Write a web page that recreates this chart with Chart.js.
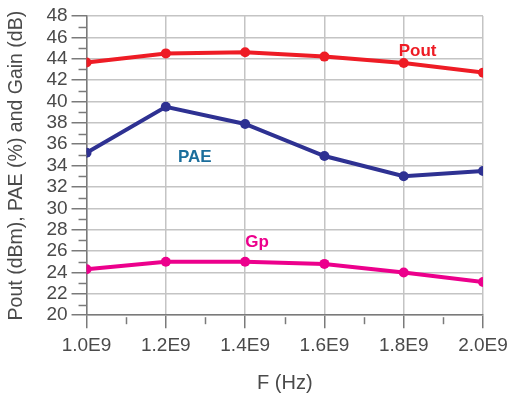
<!DOCTYPE html>
<html>
<head>
<meta charset="utf-8">
<script src="https://cdn.jsdelivr.net/npm/chart.js@4"></script>
<style>
  html, body { margin: 0; padding: 0; background: #fff; }
  #wrap { width: 510px; height: 395px; }
</style>
</head>
<body>
<div id="wrap"><canvas id="chart" width="510" height="395"></canvas></div>
<script>
const freqs = [1.0e9, 1.2e9, 1.4e9, 1.6e9, 1.8e9, 2.0e9];
const pout = [43.65, 44.5, 44.6, 44.2, 43.6, 42.7];
const pae = [35.2, 39.5, 37.9, 34.9, 33.0, 33.5];
const gp = [24.3, 25.0, 25.0, 24.8, 24.0, 23.1];
const yMin = 20, yMax = 48, yStep = 2;
const xMin = 1.0e9, xMax = 2.0e9, xStep = 0.2e9;

// series name labels, placed in data units
const seriesLabels = [
  { text: 'Pout', x: 1.835e9, y: 44.7, color: '#ee1c25' },
  { text: 'PAE', x: 1.273e9, y: 34.8, color: '#1b6e9c' },
  { text: 'Gp', x: 1.43e9, y: 26.8, color: '#ec008c' }
];

const FONT = "'Liberation Sans', Arial, sans-serif";
const AXIS = '#7a7a7a';
const TEXT = '#4a4a4a';

function points(vals) {
  return freqs.map((f, i) => ({ x: f, y: vals[i] }));
}

function series(label, vals, color) {
  return {
    label: label,
    data: points(vals),
    borderColor: color,
    backgroundColor: color,
    borderWidth: 4,
    pointRadius: 5,
    pointHoverRadius: 5,
    pointBorderWidth: 0,
    tension: 0
  };
}

// minor ticks on both axes and the text labels
const extras = {
  id: 'extras',
  afterDraw(chart) {
    const ctx = chart.ctx;
    const xs = chart.scales.x, ys = chart.scales.y;
    const area = chart.chartArea;
    ctx.save();
    ctx.strokeStyle = AXIS;
    ctx.lineWidth = 1.5;
    for (let v = yMin + 1; v < yMax; v += 2) {
      const py = Math.round(ys.getPixelForValue(v)) + 0.5;
      ctx.beginPath();
      ctx.moveTo(area.left - 8, py);
      ctx.lineTo(area.left, py);
      ctx.stroke();
    }
    for (let v = xMin + xStep / 2; v < xMax; v += xStep) {
      const px = Math.round(xs.getPixelForValue(v)) + 0.5;
      ctx.beginPath();
      ctx.moveTo(px, area.bottom + 2);
      ctx.lineTo(px, area.bottom + 9);
      ctx.stroke();
    }
    ctx.textAlign = 'center';
    ctx.textBaseline = 'middle';
    ctx.font = "bold 17px " + FONT;
    seriesLabels.forEach(l => {
      ctx.fillStyle = l.color;
      ctx.fillText(l.text, xs.getPixelForValue(l.x), ys.getPixelForValue(l.y));
    });
    ctx.restore();
  }
};

new Chart(document.getElementById('chart').getContext('2d'), {
  type: 'line',
  data: {
    datasets: [
      series('Pout', pout, '#ee1c25'),
      series('PAE', pae, '#2e3192'),
      series('Gp', gp, '#ec008c')
    ]
  },
  options: {
    responsive: false,
    animation: false,
    events: [],
    layout: { padding: { top: 16, left: 5, right: 0, bottom: 0 } },
    plugins: {
      legend: { display: false },
      tooltip: { enabled: false }
    },
    scales: {
      x: {
        type: 'linear',
        min: xMin,
        max: xMax,
        afterFit: scale => { scale.paddingRight = 27; },
        ticks: {
          stepSize: xStep,
          autoSkip: false,
          color: TEXT,
          font: { family: FONT, size: 19 },
          padding: 6,
          maxRotation: 0,
          callback: v => (v / 1e9).toFixed(1) + 'E9'
        },
        grid: { color: '#c4c4c4', lineWidth: 1.5, tickColor: AXIS, tickLength: 13 },
        border: { color: AXIS, width: 1.5 },
        title: {
          display: true,
          text: 'F (Hz)',
          color: TEXT,
          font: { family: FONT, size: 20 },
          padding: { top: 8, bottom: 0 }
        }
      },
      y: {
        min: yMin,
        max: yMax,
        ticks: {
          stepSize: yStep,
          autoSkip: false,
          color: TEXT,
          font: { family: FONT, size: 19 },
          padding: 4
        },
        grid: { color: '#c4c4c4', lineWidth: 1.5, tickColor: AXIS, tickLength: 15 },
        border: { color: AXIS, width: 1.5 },
        title: {
          display: true,
          text: 'Pout (dBm), PAE (%) and Gain (dB)',
          color: TEXT,
          font: { family: FONT, size: 19.5 },
          padding: { top: 0, bottom: 14 }
        }
      }
    }
  },
  plugins: [extras]
});
</script>
</body>
</html>
